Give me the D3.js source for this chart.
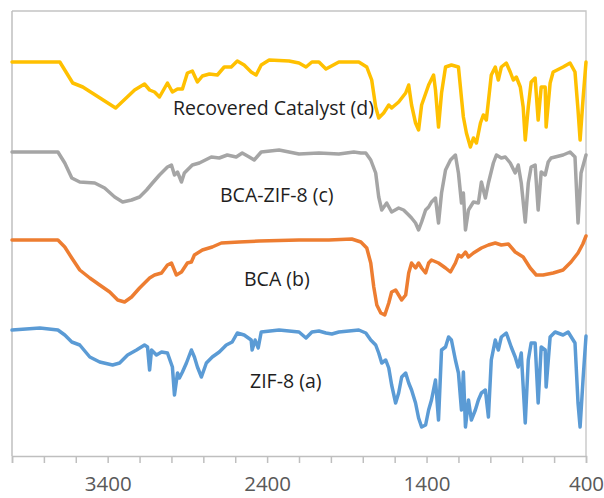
<!DOCTYPE html>
<html>
<head>
<meta charset="utf-8">
<script src="https://cdn.jsdelivr.net/npm/d3@7"></script>
<style>
  body { margin: 0; background: #fff; }
  svg { display: block; font-family: "Open Sans", sans-serif; }
</style>
</head>
<body>
<div id="chart"></div>
<script>
// spektra FTIR, [vlnocet cm-1, transmitance s posunem (a.u.)]
const zif8 = [
  [4000,128],[3825,130],[3712,128],[3669,123],[3625,116],[3575,113],[3512,101],[3450,96],[3369,93],[3325,95],
  [3275,103],[3219,108],[3169,113],[3150,111],[3137,88],[3125,108],[3094,103],[3062,106],[3025,105],[2994,91],
  [2981,63],[2962,85],[2950,80],[2931,86],[2906,95],[2875,108],[2856,101],[2837,91],[2812,81],[2781,95],
  [2744,101],[2700,106],[2656,113],[2619,116],[2587,125],[2544,123],[2500,118],[2494,108],[2475,118],[2456,110],
  [2437,126],[2325,128],[2200,126],[2156,120],[2119,126],[2075,127],[2031,125],[1994,124],[1950,126],[1825,128],
  [1781,125],[1750,118],[1719,113],[1700,105],[1681,95],[1656,98],[1637,90],[1619,73],[1594,55],[1575,65],
  [1556,81],[1531,85],[1512,75],[1494,68],[1469,55],[1450,40],[1431,31],[1406,33],[1387,48],[1369,58],
  [1344,78],[1325,38],[1306,108],[1281,111],[1262,121],[1244,118],[1219,98],[1200,85],[1181,48],[1169,86],
  [1156,31],[1137,58],[1119,38],[1094,48],[1075,58],[1056,65],[1031,68],[1012,41],[994,98],[969,118],
  [950,108],[931,121],[900,125],[869,111],[844,101],[825,91],[806,105],[781,35],[762,98],[744,115],
  [719,115],[700,55],[681,111],[656,108],[650,71],[625,121],[594,126],[544,123],[512,126],[469,115],
  [450,55],[437,31],[418,80],[400,122]
];

const bca = [
  [4000,218],[3712,218],[3669,211],[3625,200],[3575,188],[3512,180],[3450,173],[3387,166],[3337,158],[3294,156],
  [3250,161],[3200,170],[3137,180],[3106,183],[3062,185],[3025,193],[3000,195],[2969,183],[2937,186],[2900,195],
  [2875,196],[2856,203],[2806,208],[2744,211],[2687,215],[2575,216],[2450,217],[2200,218],[2012,218],[1869,219],
  [1812,216],[1775,210],[1750,195],[1731,171],[1712,153],[1687,145],[1662,143],[1637,155],[1619,166],[1594,168],
  [1575,163],[1556,158],[1531,163],[1512,185],[1494,195],[1469,190],[1450,195],[1431,190],[1406,185],[1387,195],
  [1369,198],[1325,195],[1281,190],[1250,186],[1219,195],[1200,203],[1181,201],[1156,206],[1137,201],[1106,205],
  [1056,210],[1012,213],[969,215],[931,213],[887,214],[844,206],[794,201],[750,190],[712,183],[669,183],
  [606,185],[544,188],[494,196],[450,205],[420,214],[400,222]
];

const bcaZif8 = [
  [4000,306],[3712,306],[3669,295],[3625,280],[3575,276],[3481,275],[3419,270],[3356,261],[3306,256],[3250,258],
  [3200,261],[3156,268],[3119,275],[3075,283],[3025,291],[3000,293],[2981,283],[2962,286],[2937,276],[2919,285],
  [2869,293],[2825,295],[2750,301],[2700,300],[2650,303],[2594,301],[2556,305],[2512,301],[2481,298],[2437,306],
  [2325,308],[2200,304],[2075,305],[1950,304],[1856,306],[1812,305],[1781,305],[1750,298],[1719,285],[1700,261],
  [1681,248],[1650,255],[1619,246],[1575,250],[1544,248],[1512,243],[1494,240],[1469,235],[1450,228],[1431,236],
  [1406,248],[1387,251],[1369,256],[1344,260],[1325,235],[1306,265],[1281,288],[1250,298],[1219,303],[1200,285],
  [1181,255],[1169,265],[1156,228],[1137,248],[1106,256],[1075,255],[1056,276],[1031,260],[1012,275],[981,295],
  [962,303],[931,300],[906,301],[875,295],[844,285],[825,293],[806,275],[781,236],[762,275],[744,291],
  [719,293],[700,248],[681,286],[656,283],[637,296],[619,300],[544,303],[500,306],[469,301],[450,235],
  [431,285],[400,303]
];

const recovered = [
  [4000,396],[3825,396],[3700,396],[3619,375],[3556,371],[3350,350],[3231,368],[3169,374],[3137,368],[3106,366],
  [3075,361],[3025,375],[2994,366],[2962,369],[2931,369],[2900,385],[2869,387],[2837,376],[2806,382],[2762,384],
  [2712,383],[2669,391],[2625,391],[2587,397],[2544,393],[2500,386],[2469,383],[2437,393],[2387,398],[2262,397],
  [2200,395],[2156,391],[2119,396],[2075,396],[2031,389],[1950,396],[1825,396],[1775,391],[1744,378],[1719,351],
  [1700,340],[1669,345],[1637,353],[1619,350],[1575,356],[1531,365],[1512,373],[1494,353],[1469,335],[1450,328],
  [1431,353],[1387,373],[1356,383],[1344,368],[1325,331],[1306,365],[1281,391],[1244,393],[1200,391],[1181,360],
  [1169,341],[1150,325],[1125,311],[1106,320],[1087,315],[1062,335],[1044,343],[1025,338],[994,383],[969,391],
  [950,378],[931,391],[900,395],[875,386],[856,378],[837,381],[812,371],[794,351],[781,318],[762,351],
  [744,376],[719,380],[700,338],[681,371],[656,371],[650,331],[625,375],[606,386],[544,391],[500,395],
  [469,386],[450,348],[437,318],[418,360],[400,396]
];

const serie = [
  { nazev: "ZIF-8 (a)", data: zif8, barva: "#5b9bd5" },
  { nazev: "BCA (b)", data: bca, barva: "#ed7d31" },
  { nazev: "BCA-ZIF-8 (c)", data: bcaZif8, barva: "#a5a5a5" },
  { nazev: "Recovered Catalyst (d)", data: recovered, barva: "#ffc000" }
];

// popisky u krivek
const popisky = ["ZIF-8 (a)", "BCA (b)", "BCA-ZIF-8 (c)", "Recovered Catalyst (d)"];
const popiskyPoloha = [[250, 70], [244, 172], [220, 256], [173, 343]]; // [vlevo px, hodnota a.u.]

const znackyOsy = d3.range(4000, 399, -200);
const popiskyOsy = [3400, 2400, 1400, 400];

const width = 604;
const height = 498;

const svg = d3.select("#chart")
  .append("svg")
  .attr("width", width)
  .attr("height", height);

const x = d3.scaleLinear().domain([4000, 400]).range([12, 586]);
const y = d3.scaleLinear().domain([2, 447]).range([456, 11]);

// ramecek grafu
svg.append("path")
  .attr("d", `M${x(4000)},${y(447)}H${x(400)}V${y(2)}`)
  .attr("fill", "none")
  .attr("stroke", "#c4c4c4")
  .attr("stroke-width", 1.3);

svg.append("line")
  .attr("x1", x(4000)).attr("x2", x(4000))
  .attr("y1", y(447)).attr("y2", y(2))
  .attr("stroke", "#bfbfbf")
  .attr("stroke-width", 1.5);

// osa x
const osa = svg.append("g")
  .attr("transform", `translate(0,${y(2)})`)
  .call(d3.axisBottom(x)
    .tickValues(znackyOsy)
    .tickSize(7)
    .tickFormat(d => popiskyOsy.includes(d) ? d : ""));

osa.select(".domain").attr("stroke", "#bfbfbf").attr("stroke-width", 1.5);
osa.selectAll(".tick line").attr("stroke", "#bfbfbf").attr("stroke-width", 1.5);
osa.selectAll(".tick text")
  .attr("y", 35)
  .attr("dy", 0)
  .attr("fill", "#595959")
  .style("font-size", "20.5px")
  .style("font-family", "'Open Sans', sans-serif");

const line = d3.line()
  .x(d => x(d[0]))
  .y(d => y(d[1]));

svg.selectAll(".spektrum")
  .data(serie)
  .enter().append("path")
  .attr("class", "spektrum")
  .attr("d", d => line(d.data))
  .attr("fill", "none")
  .attr("stroke", d => d.barva)
  .attr("stroke-width", 3.5)
  .attr("stroke-linejoin", "round")
  .attr("stroke-linecap", "round");

popisky.forEach((t, i) => {
  svg.append("text")
    .attr("x", popiskyPoloha[i][0])
    .attr("y", y(popiskyPoloha[i][1]))
    .attr("fill", "#1e1e1e")
    .style("font-size", "19.5px")
    .text(t);
});
</script>
</body>
</html>
